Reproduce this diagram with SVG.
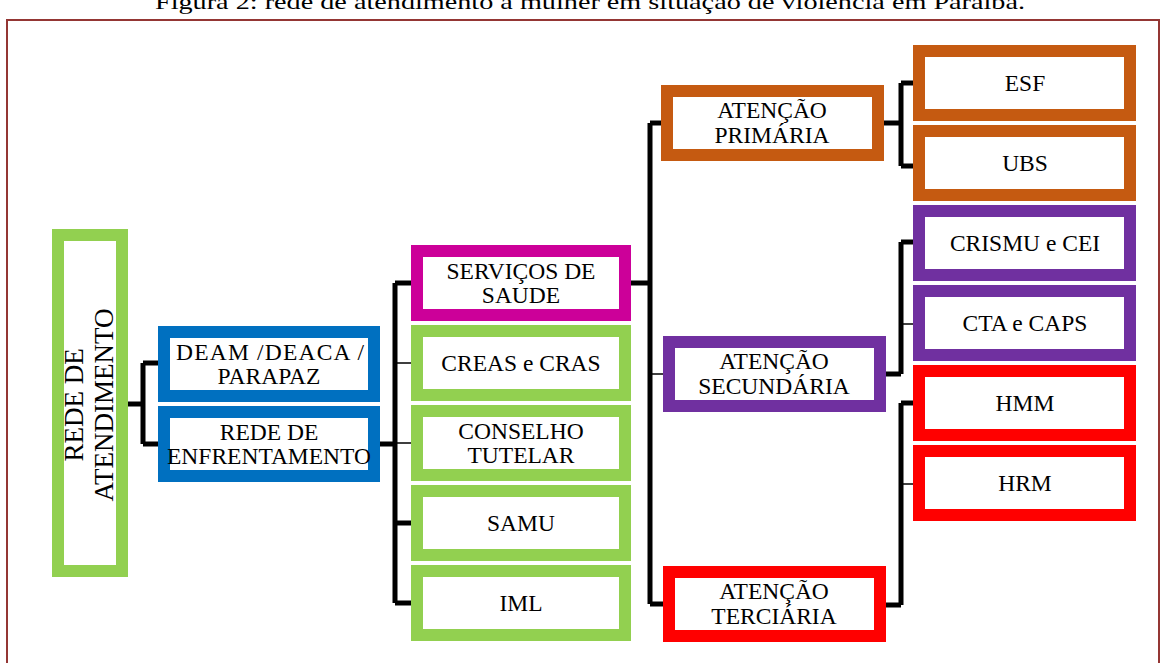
<svg xmlns="http://www.w3.org/2000/svg" width="1164" height="663" viewBox="0 0 1164 663">
<style>
.box{fill:#fff;stroke-width:12}
.g{stroke:#92D050}.b{stroke:#0070C0}.m{stroke:#CC0099}.o{stroke:#C55A11}.p{stroke:#7030A0}.r{stroke:#FF0000}
text{font-family:"Liberation Serif","Times New Roman",serif;font-size:23.5px;fill:#000;text-anchor:middle}
.rot{font-size:27px}
.title{font-size:21px}
.k{stroke:#000;stroke-width:5;fill:none}
.t{stroke:#000;stroke-width:1.5;fill:none}
</style>
<rect x="0" y="0" width="1164" height="663" fill="#fff"/>
<text class="title" x="590" y="9" textLength="870" lengthAdjust="spacingAndGlyphs">Figura 2: rede de atendimento à mulher em situação de violência em Paraíba.</text>
<rect x="7" y="20" width="1152" height="700" fill="none" stroke="#943634" stroke-width="2"/>
<g id="connectors">
<path class="k" d="M128 404H143M143 363V444M143 363H158M143 444H158"/>
<path class="k" d="M380 444H395M395 283V603M395 283H411M395 523H411M395 603H411"/>
<path class="t" d="M395 363H411M395 443H411"/>
<path class="k" d="M631 283H650M650 123V604M650 123H661M650 604H663"/>
<path class="t" d="M650 374H663"/>
<path class="k" d="M884 123H901M901 83V166M901 83H913M901 166H913"/>
<path class="k" d="M886 374H901M901 242V374M901 242H913"/>
<path class="t" d="M901 324H913"/>
<path class="k" d="M886 605H901M901 403V605M901 403H913"/>
<path class="t" d="M901 484H913"/>
</g>
<g id="rede-atendimento"><rect class="box g" x="58" y="235" width="64" height="336"/>
<g transform="translate(90,405) rotate(-90)"><text class="rot" x="0" y="-7">REDE DE</text><text class="rot" x="0" y="23">ATENDIMENTO</text></g></g>
<g id="deam"><rect class="box b" x="164" y="332" width="210" height="64"/><text x="270" y="360" textLength="188" lengthAdjust="spacing">DEAM /DEACA /</text><text x="269" y="384">PARAPAZ</text></g>
<g id="rede-enfrentamento"><rect class="box b" x="164" y="412" width="210" height="64"/><text x="269" y="440">REDE DE</text><text x="269" y="464">ENFRENTAMENTO</text></g>
<g id="servicos-saude"><rect class="box m" x="417" y="251" width="208" height="64"/><text x="521" y="279">SERVIÇOS DE</text><text x="521" y="303">SAUDE</text></g>
<g id="creas"><rect class="box g" x="417" y="331" width="208" height="64"/><text x="521" y="371">CREAS e CRAS</text></g>
<g id="conselho"><rect class="box g" x="417" y="411" width="208" height="64"/><text x="521" y="439">CONSELHO</text><text x="521" y="463">TUTELAR</text></g>
<g id="samu"><rect class="box g" x="417" y="491" width="208" height="64"/><text x="521" y="531">SAMU</text></g>
<g id="iml"><rect class="box g" x="417" y="571" width="208" height="64"/><text x="521" y="611">IML</text></g>
<g id="atencao-primaria"><rect class="box o" x="667" y="91" width="211" height="64"/><text x="772" y="118">ATENÇÃO</text><text x="772" y="143">PRIMÁRIA</text></g>
<g id="atencao-secundaria"><rect class="box p" x="669" y="342" width="211" height="64"/><text x="774" y="369">ATENÇÃO</text><text x="774" y="394">SECUNDÁRIA</text></g>
<g id="atencao-terciaria"><rect class="box r" x="669" y="572" width="211" height="64"/><text x="774" y="599">ATENÇÃO</text><text x="774" y="624">TERCIÁRIA</text></g>
<g id="esf"><rect class="box o" x="919" y="51" width="211" height="64"/><text x="1025" y="91">ESF</text></g>
<g id="ubs"><rect class="box o" x="919" y="131" width="211" height="64"/><text x="1025" y="171">UBS</text></g>
<g id="crismu"><rect class="box p" x="919" y="211" width="211" height="64"/><text x="1025" y="251">CRISMU e CEI</text></g>
<g id="cta"><rect class="box p" x="919" y="291" width="211" height="64"/><text x="1025" y="331">CTA e CAPS</text></g>
<g id="hmm"><rect class="box r" x="919" y="371" width="211" height="64"/><text x="1025" y="411">HMM</text></g>
<g id="hrm"><rect class="box r" x="919" y="451" width="211" height="64"/><text x="1025" y="491">HRM</text></g>
</svg>
